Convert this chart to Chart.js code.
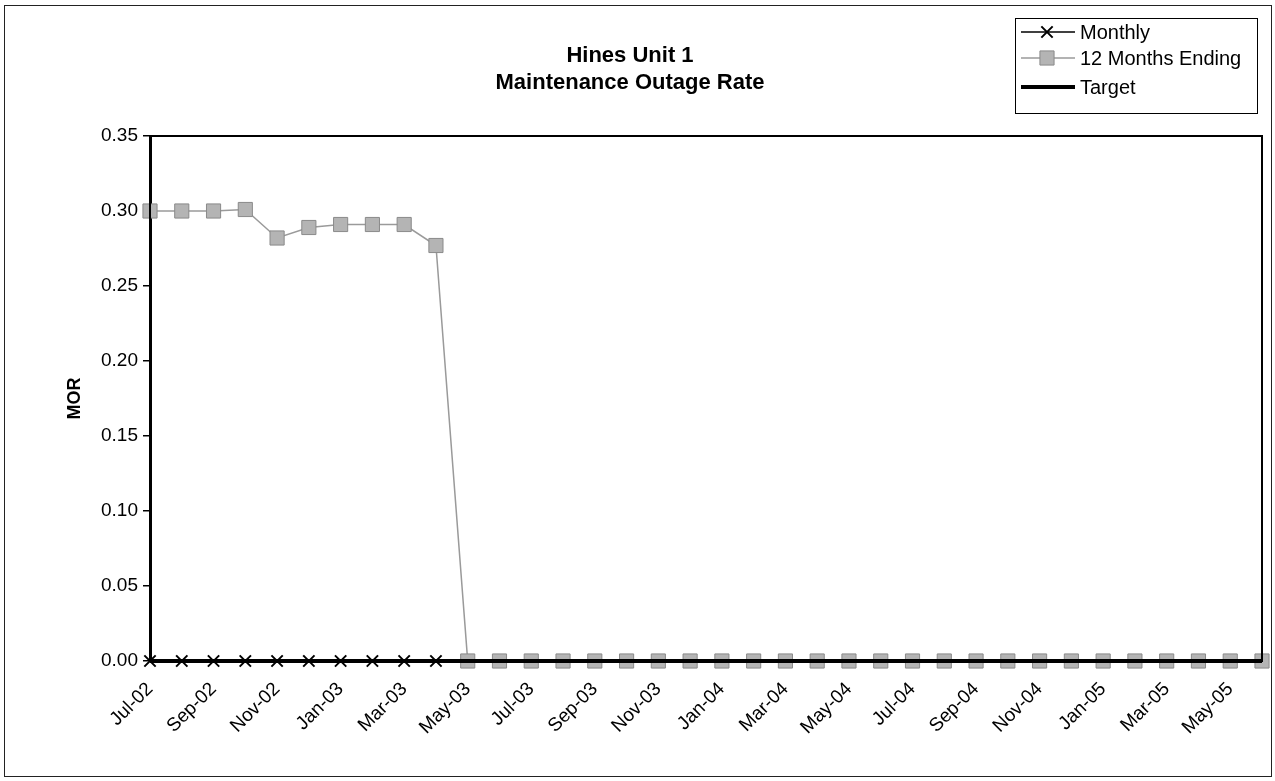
<!DOCTYPE html>
<html>
<head>
<meta charset="utf-8">
<script src="https://cdn.jsdelivr.net/npm/chart.js@4/dist/chart.umd.min.js"></script>
<style>
  body { margin: 0; background: #fff; }
  canvas { display: block; }
</style>
</head>
<body>
<canvas id="morChart" width="1275" height="781"></canvas>
<script>
// months Jul-02 .. Jun-05
const months = ['Jul-02','Aug-02','Sep-02','Oct-02','Nov-02','Dec-02',
  'Jan-03','Feb-03','Mar-03','Apr-03','May-03','Jun-03',
  'Jul-03','Aug-03','Sep-03','Oct-03','Nov-03','Dec-03',
  'Jan-04','Feb-04','Mar-04','Apr-04','May-04','Jun-04',
  'Jul-04','Aug-04','Sep-04','Oct-04','Nov-04','Dec-04',
  'Jan-05','Feb-05','Mar-05','Apr-05','May-05','Jun-05'];

const monthly = [0, 0, 0, 0, 0, 0, 0, 0, 0, 0];

const twelveMonth = [0.300, 0.300, 0.300, 0.301, 0.282, 0.289, 0.291, 0.291, 0.291, 0.277,
  0, 0, 0, 0, 0, 0, 0, 0, 0, 0, 0, 0, 0, 0, 0, 0, 0, 0, 0, 0, 0, 0, 0, 0, 0, 0];

const target = [0, 0, 0, 0, 0, 0, 0, 0, 0, 0, 0, 0, 0, 0, 0, 0, 0, 0,
  0, 0, 0, 0, 0, 0, 0, 0, 0, 0, 0, 0, 0, 0, 0, 0, 0, 0];

const yTicks = [0, 0.05, 0.10, 0.15, 0.20, 0.25, 0.30, 0.35];

const FONT = 'Arial, "Liberation Sans", sans-serif';

// frame, title and the boxed legend
const decorPlugin = {
  id: 'decor',
  beforeDraw(chart) {
    const ctx = chart.ctx;
    ctx.save();
    ctx.fillStyle = '#fff';
    ctx.fillRect(0, 0, chart.width, chart.height);
    ctx.restore();
  },
  afterDraw(chart) {
    const ctx = chart.ctx;
    const area = chart.chartArea;
    ctx.save();

    // outer border
    ctx.strokeStyle = '#222';
    ctx.lineWidth = 1;
    ctx.strokeRect(4.5, 5.5, 1267, 771);

    // plot box
    ctx.lineWidth = 2;
    ctx.strokeStyle = '#000';
    ctx.strokeRect(area.left, area.top, area.right - area.left, area.bottom - area.top);

    // title
    ctx.fillStyle = '#000';
    ctx.font = 'bold 22px ' + FONT;
    ctx.textAlign = 'center';
    ctx.textBaseline = 'alphabetic';
    ctx.fillText('Hines Unit 1', 630, 62);
    ctx.fillText('Maintenance Outage Rate', 630, 89);

    // legend
    ctx.lineWidth = 1;
    ctx.strokeStyle = '#000';
    ctx.strokeRect(1015.5, 18.5, 242, 95);
    ctx.font = '20px ' + FONT;
    ctx.textAlign = 'left';
    ctx.textBaseline = 'middle';
    const rows = [32, 58, 87];
    chart.data.datasets.forEach((ds, i) => {
      const y = rows[i];
      ctx.strokeStyle = ds.borderColor;
      ctx.lineWidth = ds.borderWidth;
      ctx.beginPath();
      ctx.moveTo(1021, y);
      ctx.lineTo(1075, y);
      ctx.stroke();
      if (ds.pointStyle === 'crossRot') {
        ctx.strokeStyle = ds.pointBorderColor;
        ctx.lineWidth = ds.pointBorderWidth;
        const r = ds.pointRadius * Math.SQRT1_2;
        ctx.beginPath();
        ctx.moveTo(1047 - r, y - r); ctx.lineTo(1047 + r, y + r);
        ctx.moveTo(1047 - r, y + r); ctx.lineTo(1047 + r, y - r);
        ctx.stroke();
      } else if (ds.pointStyle === 'rect') {
        const s = Math.SQRT1_2 * ds.pointRadius;
        ctx.fillStyle = ds.pointBackgroundColor;
        ctx.strokeStyle = ds.pointBorderColor;
        ctx.lineWidth = ds.pointBorderWidth;
        ctx.beginPath();
        ctx.rect(1047 - s, y - s, 2 * s, 2 * s);
        ctx.fill();
        ctx.stroke();
      }
      ctx.fillStyle = '#000';
      ctx.fillText(ds.label, 1080, y + 1);
    });

    ctx.restore();
  }
};

new Chart(document.getElementById('morChart').getContext('2d'), {
  type: 'line',
  data: {
    labels: months,
    datasets: [{
      label: 'Monthly',
      data: monthly,
      borderColor: '#000',
      borderWidth: 1.5,
      pointStyle: 'crossRot',
      pointRadius: 8,
      pointBorderWidth: 2,
      pointBorderColor: '#000',
      pointBackgroundColor: '#000',
      tension: 0,
      clip: false,
      order: 0
    }, {
      label: '12 Months Ending',
      data: twelveMonth,
      borderColor: '#9a9a9a',
      borderWidth: 1.5,
      pointStyle: 'rect',
      pointRadius: 10,
      pointBorderWidth: 1,
      pointBorderColor: '#8a8a8a',
      pointBackgroundColor: '#b4b4b4',
      tension: 0,
      clip: false,
      order: 2
    }, {
      label: 'Target',
      data: target,
      borderColor: '#000',
      borderWidth: 4,
      pointRadius: 0,
      tension: 0,
      clip: false,
      order: 1
    }]
  },
  options: {
    responsive: false,
    animation: false,
    layout: { padding: { top: 136, left: 10, right: 13, bottom: 0 } },
    plugins: {
      legend: { display: false },
      title: { display: false },
      tooltip: { enabled: false }
    },
    scales: {
      x: {
        offset: false,
        border: { display: true, color: '#000', width: 2 },
        grid: { display: false },
        ticks: {
          autoSkip: false,
          maxRotation: 45,
          minRotation: 45,
          color: '#000',
          font: { family: FONT, size: 19 },
          padding: 9,
          callback: function (val, i) { return i % 2 === 0 ? months[i] : ''; }
        },
        afterFit(scale) {
          scale.height = 120;
          scale.paddingRight = 0;
          scale.paddingLeft = 0;
        }
      },
      y: {
        min: 0,
        max: 0.35,
        afterBuildTicks(scale) { scale.ticks = yTicks.map(v => ({ value: v })); },
        border: { display: true, color: '#000', width: 3 },
        grid: { drawOnChartArea: false, color: '#000', tickLength: 7, lineWidth: 1.5 },
        ticks: {
          color: '#000',
          font: { family: FONT, size: 19 },
          padding: 5,
          callback: v => v.toFixed(2)
        },
        title: {
          display: true,
          text: 'MOR',
          color: '#000',
          font: { family: FONT, size: 18, weight: 'bold' },
          padding: { top: 54, bottom: 0 }
        },
        afterFit(scale) {
          scale.width = 140;
          scale.paddingTop = 0;
          scale.paddingBottom = 0;
        }
      }
    }
  },
  plugins: [decorPlugin]
});
</script>
</body>
</html>
